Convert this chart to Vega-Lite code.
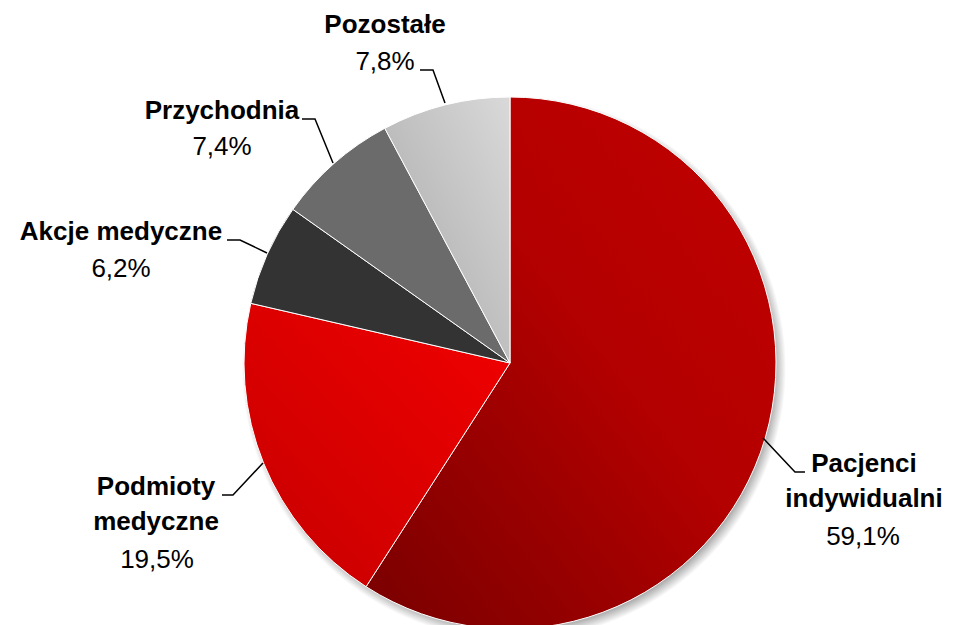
{
  "$schema": "https://vega.github.io/schema/vega-lite/v6.json",
  "width": 957,
  "height": 625,
  "autosize": "none",
  "padding": 0,
  "background": "white",
  "config": {"view": {"stroke": null}},
  "datasets": {
    "shares": [
      {"category": "Pacjenci indywidualni", "ord": 1, "share": 59.1},
      {"category": "Podmioty medyczne", "ord": 2, "share": 19.5},
      {"category": "Akcje medyczne", "ord": 3, "share": 6.2},
      {"category": "Przychodnia", "ord": 4, "share": 7.4},
      {"category": "Pozostałe", "ord": 5, "share": 7.8}
    ],
    "labels": [
      {"slice": "Pozostałe", "kind": "name", "text": "Pozostałe", "x": -0.4699, "y": 1.2406},
      {"slice": "Pozostałe", "kind": "pct", "text": "7,8%", "x": -0.4699, "y": 1.1015},
      {"slice": "Przychodnia", "kind": "name", "text": "Przychodnia", "x": -1.0827, "y": 0.9173},
      {"slice": "Przychodnia", "kind": "pct", "text": "7,4%", "x": -1.0827, "y": 0.782},
      {"slice": "Akcje medyczne", "kind": "name", "text": "Akcje medyczne", "x": -1.4624, "y": 0.4624},
      {"slice": "Akcje medyczne", "kind": "pct", "text": "6,2%", "x": -1.4624, "y": 0.3233},
      {"slice": "Podmioty medyczne", "kind": "name", "text": "Podmioty", "x": -1.3308, "y": -0.4962},
      {"slice": "Podmioty medyczne", "kind": "name", "text": "medyczne", "x": -1.3308, "y": -0.6278},
      {"slice": "Podmioty medyczne", "kind": "pct", "text": "19,5%", "x": -1.3271, "y": -0.7707},
      {"slice": "Pacjenci indywidualni", "kind": "name", "text": "Pacjenci", "x": 1.3308, "y": -0.4098},
      {"slice": "Pacjenci indywidualni", "kind": "name", "text": "indywidualni", "x": 1.3308, "y": -0.5414},
      {"slice": "Pacjenci indywidualni", "kind": "pct", "text": "59,1%", "x": 1.3271, "y": -0.6842}
    ],
    "leaders": [
      {"slice": "Pozostałe", "ord": 1, "x": -0.3383, "y": 1.1015},
      {"slice": "Pozostałe", "ord": 2, "x": -0.2895, "y": 1.1015},
      {"slice": "Pozostałe", "ord": 3, "x": -0.2444, "y": 0.9774},
      {"slice": "Przychodnia", "ord": 1, "x": -0.782, "y": 0.9173},
      {"slice": "Przychodnia", "ord": 2, "x": -0.7331, "y": 0.9173},
      {"slice": "Przychodnia", "ord": 3, "x": -0.6654, "y": 0.7519},
      {"slice": "Akcje medyczne", "ord": 1, "x": -1.0639, "y": 0.4624},
      {"slice": "Akcje medyczne", "ord": 2, "x": -1.015, "y": 0.4624},
      {"slice": "Akcje medyczne", "ord": 3, "x": -0.9135, "y": 0.4135},
      {"slice": "Podmioty medyczne", "ord": 1, "x": -1.0827, "y": -0.4962},
      {"slice": "Podmioty medyczne", "ord": 2, "x": -1.0414, "y": -0.4962},
      {"slice": "Podmioty medyczne", "ord": 3, "x": -0.9286, "y": -0.3759},
      {"slice": "Pacjenci indywidualni", "ord": 1, "x": 1.109, "y": -0.4098},
      {"slice": "Pacjenci indywidualni", "ord": 2, "x": 1.0714, "y": -0.4098},
      {"slice": "Pacjenci indywidualni", "ord": 3, "x": 0.9511, "y": -0.282}
    ]
  },
  "layer": [
    {
      "data": {"values": [{"k": "shadow"}]},
      "mark": {
        "type": "arc",
        "outerRadius": 272,
        "fill": {
          "gradient": "radial",
          "x1": 0.5, "y1": 0.5, "r1": 0,
          "x2": 0.5, "y2": 0.5, "r2": 0.5,
          "stops": [
            {"offset": 0, "color": "#a0a0a0"},
            {"offset": 0.955, "color": "#a8a8a8"},
            {"offset": 1, "color": "#ffffff"}
          ]
        }
      },
      "encoding": {
        "x": {"datum": 0.015, "type": "quantitative", "scale": {"domain": [-1.91729, 1.68045], "nice": false, "zero": false}, "axis": null},
        "y": {"datum": -0.019, "type": "quantitative", "scale": {"domain": [-0.98496, 1.36466], "nice": false, "zero": false}, "axis": null},
        "theta": {"value": 0},
        "theta2": {"value": 6.2832}
      }
    },
    {
      "data": {"name": "shares"},
      "mark": {"type": "arc", "outerRadius": 266, "stroke": "white", "strokeWidth": 1},
      "encoding": {
        "x": {"datum": 0, "type": "quantitative", "scale": {"domain": [-1.91729, 1.68045], "nice": false, "zero": false}, "axis": null},
        "y": {"datum": 0, "type": "quantitative", "scale": {"domain": [-0.98496, 1.36466], "nice": false, "zero": false}, "axis": null},
        "theta": {"field": "share", "type": "quantitative", "stack": true},
        "order": {"field": "ord", "type": "quantitative"},
        "detail": {"field": "category"},
        "fill": {
          "condition": [
            {"test": "datum.category === 'Pacjenci indywidualni'", "value": {"gradient": "linear", "x1": 1, "y1": 0, "x2": 0, "y2": 1, "stops": [{"offset": 0, "color": "#c20000"}, {"offset": 0.45, "color": "#b30000"}, {"offset": 1, "color": "#780000"}]}},
            {"test": "datum.category === 'Podmioty medyczne'", "value": {"gradient": "linear", "x1": 1, "y1": 0, "x2": 0, "y2": 1, "stops": [{"offset": 0, "color": "#f20000"}, {"offset": 1, "color": "#c60000"}]}},
            {"test": "datum.category === 'Przychodnia'", "value": "#6b6b6b"},
            {"test": "datum.category === 'Pozostałe'", "value": {"gradient": "linear", "x1": 0, "y1": 1, "x2": 1, "y2": 0, "stops": [{"offset": 0, "color": "#a6a6a6"}, {"offset": 1, "color": "#d9d9d9"}]}}
          ],
          "value": "#333333"
        }
      }
    },
    {
      "data": {"name": "leaders"},
      "mark": {"type": "line", "color": "black", "strokeWidth": 1.5},
      "encoding": {
        "x": {"field": "x", "type": "quantitative", "scale": {"domain": [-1.91729, 1.68045], "nice": false, "zero": false}, "axis": null},
        "y": {"field": "y", "type": "quantitative", "scale": {"domain": [-0.98496, 1.36466], "nice": false, "zero": false}, "axis": null},
        "detail": {"field": "slice"},
        "order": {"field": "ord", "type": "quantitative"}
      }
    },
    {
      "data": {"name": "labels"},
      "transform": [{"filter": "datum.kind === 'name'"}],
      "mark": {"type": "text", "font": "Liberation Sans", "fontWeight": "bold", "fontSize": 26, "align": "center", "baseline": "alphabetic", "color": "black"},
      "encoding": {
        "x": {"field": "x", "type": "quantitative", "scale": {"domain": [-1.91729, 1.68045], "nice": false, "zero": false}, "axis": null},
        "y": {"field": "y", "type": "quantitative", "scale": {"domain": [-0.98496, 1.36466], "nice": false, "zero": false}, "axis": null},
        "text": {"field": "text"}
      }
    },
    {
      "data": {"name": "labels"},
      "transform": [{"filter": "datum.kind === 'pct'"}],
      "mark": {"type": "text", "font": "Liberation Sans", "fontWeight": "normal", "fontSize": 26, "align": "center", "baseline": "alphabetic", "color": "black"},
      "encoding": {
        "x": {"field": "x", "type": "quantitative", "scale": {"domain": [-1.91729, 1.68045], "nice": false, "zero": false}, "axis": null},
        "y": {"field": "y", "type": "quantitative", "scale": {"domain": [-0.98496, 1.36466], "nice": false, "zero": false}, "axis": null},
        "text": {"field": "text"}
      }
    }
  ]
}
